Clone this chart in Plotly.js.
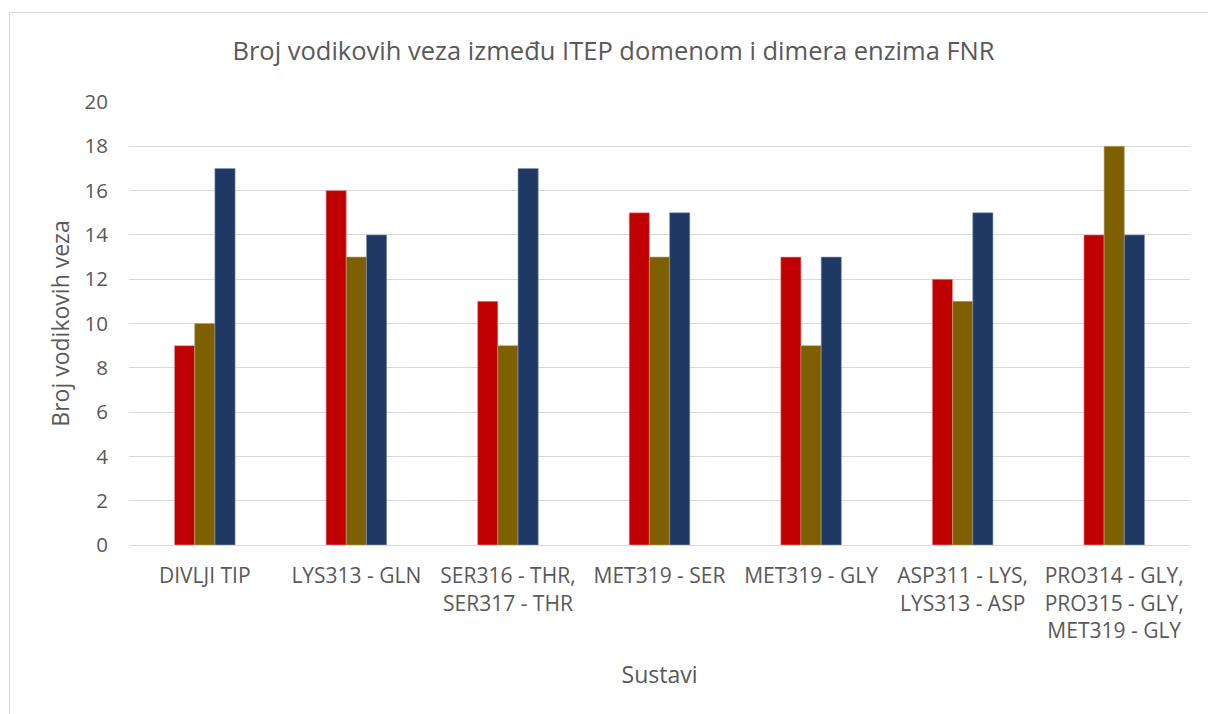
<!DOCTYPE html>
<html>
<head>
<meta charset="utf-8">
<script src="https://cdn.plot.ly/plotly-3.0.1.min.js"></script>
<style>
html,body{margin:0;padding:0;background:#fff;}
#chart{width:1208px;height:714px;}
</style>
</head>
<body>
<div id="chart"></div>
<script>
const categories = [
  "DIVLJI TIP",
  "LYS313 - GLN",
  "SER316 - THR,<br>SER317 - THR",
  "MET319 - SER",
  "MET319 - GLY",
  "ASP311 - LYS,<br>LYS313 - ASP",
  "PRO314 - GLY,<br>PRO315 - GLY,<br>MET319 - GLY"
];
const series1 = [9, 16, 11, 15, 13, 12, 14];
const series2 = [10, 13, 9, 13, 9, 11, 18];
const series3 = [17, 14, 17, 15, 13, 15, 14];
const seriesNames = ["Serija 1", "Serija 2", "Serija 3"];
const yTicks = [0, 2, 4, 6, 8, 10, 12, 14, 16, 18, 20];

const colors = ["#C00000", "#7F6000", "#1F3864"];
const lineColors = ["#e8a0a0", "#b8a070", "#8a9ab8"];
const allSeries = [series1, series2, series3];

const traces = allSeries.map((vals, i) => ({
  type: "bar",
  x: categories,
  y: vals,
  name: seriesNames[i],
  marker: {color: colors[i], line: {color: lineColors[i], width: 0.6}},
  showlegend: false,
  hoverinfo: "x+y"
}));

const W = 1208, H = 714;
const ml = 129, mr = 18, mt = 102, mb = 169;
const pw = W - ml - mr, ph = H - mt - mb;
const px = v => (v - ml) / pw;
const py = v => (H - mb - v) / ph;

const font = "Open Sans, DejaVu Sans, sans-serif";

const layout = {
  width: W, height: H,
  margin: {l: ml, r: mr, t: mt, b: mb, pad: 0},
  paper_bgcolor: "#ffffff",
  plot_bgcolor: "#ffffff",
  barmode: "group",
  bargap: 0.6,
  bargroupgap: 0,
  font: {family: font, color: "#595959", size: 20},
  title: {
    text: "Broj vodikovih veza između ITEP domenom i dimera enzima FNR",
    font: {family: font, size: 25.5, color: "#595959"},
    x: 613.5 / W, xanchor: "center", xref: "container",
    y: 1 - 51 / H, yanchor: "middle", yref: "container"
  },
  xaxis: {
    type: "category",
    tickfont: {family: font, size: 21, color: "#595959"},
    showgrid: false,
    showline: false,
    ticks: "outside",
    ticklen: 12,
    tickcolor: "rgba(0,0,0,0)",
    zeroline: false,
    title: {text: "Sustavi", font: {family: font, size: 23, color: "#595959"}, standoff: 24}
  },
  yaxis: {
    range: [0, 20],
    tickvals: yTicks,
    ticktext: yTicks.map(String),
    tickfont: {family: font, size: 20.5, color: "#595959"},
    showgrid: true,
    gridcolor: "#d9d9d9",
    gridwidth: 1,
    zeroline: true,
    zerolinecolor: "#d9d9d9",
    zerolinewidth: 1,
    showline: false,
    ticks: "outside",
    ticklen: 16,
    tickcolor: "rgba(0,0,0,0)",
    title: {text: "Broj vodikovih veza", font: {family: font, size: 23, color: "#595959"}, standoff: 8}
  },
  shapes: [{
    type: "rect",
    xref: "paper", yref: "paper",
    x0: px(9.5), x1: px(1230),
    y0: py(740), y1: py(12.5),
    line: {color: "#d9d9d9", width: 1},
    fillcolor: "rgba(0,0,0,0)",
    layer: "below"
  }]
};

Plotly.newPlot("chart", traces, layout, {displayModeBar: false, staticPlot: true});
</script>
</body>
</html>
